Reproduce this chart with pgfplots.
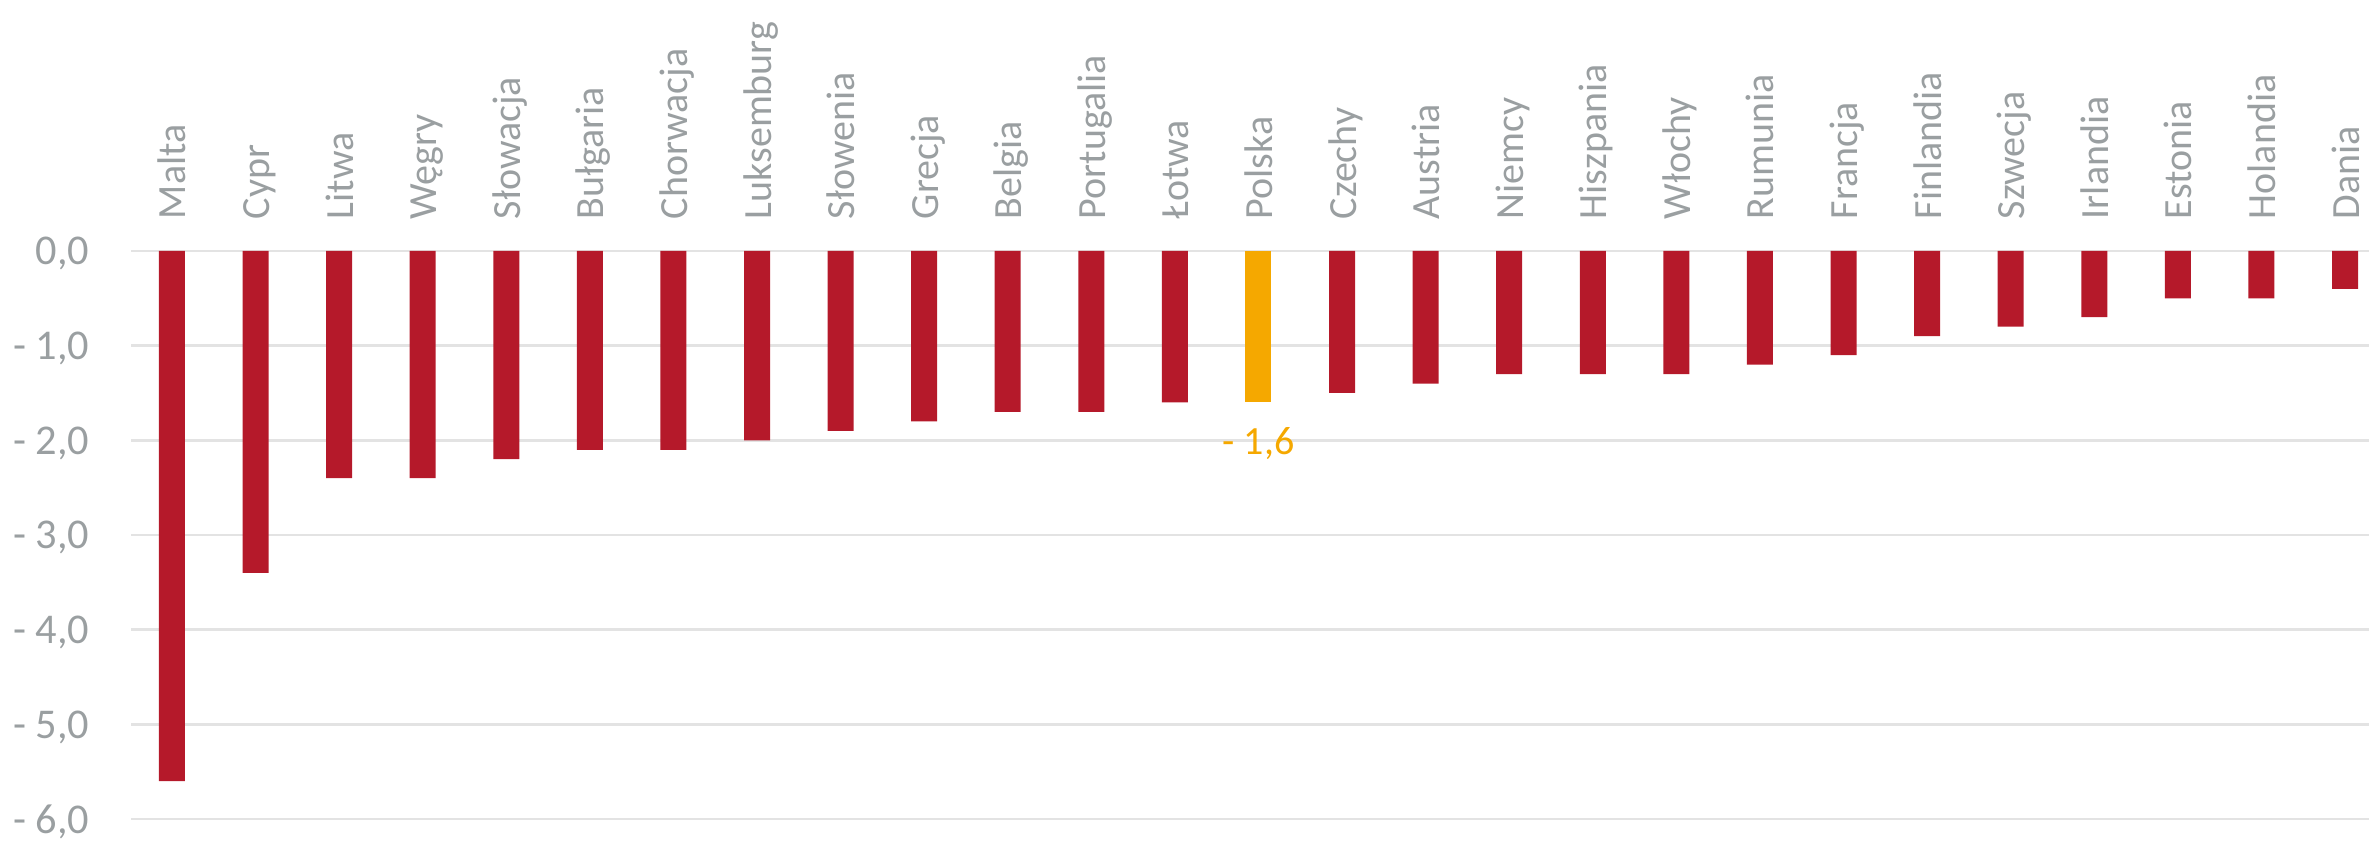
\documentclass[border=0pt]{standalone}
\usepackage{pgfplots}
\pgfplotsset{compat=1.18}
\usepackage{fontspec}
\setmainfont{Carlito}
\definecolor{barred}{HTML}{B5192A}
\definecolor{barorange}{HTML}{F5A800}
\definecolor{txtgray}{HTML}{9A9FA1}
\definecolor{gridgray}{HTML}{E3E3E3}
\begin{document}
\begin{tikzpicture}
\begin{axis}[
  name=ax,
  scale only axis,
  width=559.5pt, height=142pt,
  xmin=-0.49, xmax=26.287,
  ymin=-6, ymax=0,
  axis line style={draw=none},
  ybar, bar width=6.5pt,
  xtick={0,...,26},
  xticklabels={Malta,Cypr,Litwa,Węgry,Słowacja,Bułgaria,Chorwacja,Luksemburg,Słowenia,Grecja,Belgia,Portugalia,Łotwa,Polska,Czechy,Austria,Niemcy,Hiszpania,Włochy,Rumunia,Francja,Finlandia,Szwecja,Irlandia,Estonia,Holandia,Dania},
  xticklabel pos=upper,
  xticklabel style={rotate=90, anchor=west, inner sep=0pt, text height=0.9em, text depth=0.2em, font=\fontsize{10}{12}\selectfont, text=txtgray},
  xticklabel shift=7.75pt,
  ytick={-6,-5,-4,-3,-2,-1,0},
  yticklabels={{- 6,0},{- 5,0},{- 4,0},{- 3,0},{- 2,0},{- 1,0},{0,0}},
  yticklabel style={anchor=east, inner sep=0pt, text depth=0pt, font=\fontsize{10.6}{12}\selectfont, text=txtgray},
  yticklabel shift=10.25pt,
  major tick length=0pt,
  ymajorgrids, grid style={gridgray, line width=0.6pt},
  clip=false,
]
\addplot[fill=barred, draw=none, bar shift=0pt] coordinates {
  (0,-5.6) (1,-3.4) (2,-2.4) (3,-2.4) (4,-2.2) (5,-2.1) (6,-2.1) (7,-2.0)
  (8,-1.9) (9,-1.8) (10,-1.7) (11,-1.7) (12,-1.6) (14,-1.5) (15,-1.4)
  (16,-1.3) (17,-1.3) (18,-1.3) (19,-1.2) (20,-1.1) (21,-0.9) (22,-0.8)
  (23,-0.7) (24,-0.5) (25,-0.5) (26,-0.4)
};
\addplot[fill=barorange, draw=none, bar shift=0pt,
  nodes near coords={- 1,6},
  every node near coord/.append style={anchor=north, inner sep=0pt, yshift=-6pt, text=barorange, font=\fontsize{10}{12}\selectfont}
] coordinates {(13,-1.6)};
\end{axis}
\pgfresetboundingbox
\path[use as bounding box] ([shift={(-32.75pt,-5.5pt)}]ax.south west) rectangle ([shift={(0pt,62.75pt)}]ax.north east);
\end{tikzpicture}
\end{document}
